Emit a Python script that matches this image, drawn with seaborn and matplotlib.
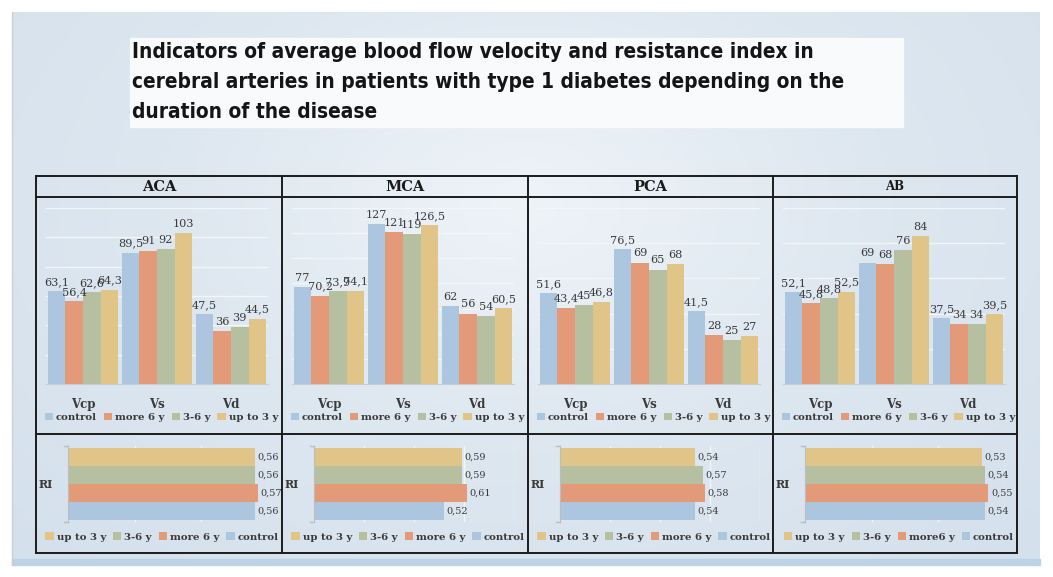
import numpy as np
import pandas as pd
import matplotlib
matplotlib.use('Agg')
import matplotlib.pyplot as plt
import seaborn as sns
from matplotlib import font_manager as fm
from matplotlib.patches import Rectangle
from matplotlib.colors import LinearSegmentedColormap

# ---------------- data ----------------
arteries = ['ACA', 'MCA', 'PCA', 'AB']
params = ['Vcp', 'Vs', 'Vd']
groups = ['control', 'more 6 y', '3-6 y', 'up to 3 y']

aca_control = [63.1, 89.5, 47.5]
aca_more6 = [56.4, 91, 36]
aca_3to6 = [62.6, 92, 39]
aca_upto3 = [64.3, 103, 44.5]

mca_control = [77, 127, 62]
mca_more6 = [70.2, 121, 56]
mca_3to6 = [73.9, 119, 54]
mca_upto3 = [74.1, 126.5, 60.5]

pca_control = [51.6, 76.5, 41.5]
pca_more6 = [43.4, 69, 28]
pca_3to6 = [45, 65, 25]
pca_upto3 = [46.8, 68, 27]

ab_control = [52.1, 69, 37.5]
ab_more6 = [45.8, 68, 34]
ab_3to6 = [48.8, 76, 34]
ab_upto3 = [52.5, 84, 39.5]

# RI values in order: up to 3 y, 3-6 y, more 6 y, control
ri_aca = [0.56, 0.56, 0.57, 0.56]
ri_mca = [0.59, 0.59, 0.61, 0.52]
ri_pca = [0.54, 0.57, 0.58, 0.54]
ri_ab = [0.53, 0.54, 0.55, 0.54]

ri_labels_std = ['up to 3 y', '3-6 y', 'more 6 y', 'control']
ri_labels_ab = ['up to 3 y', '3-6 y', 'more6 y', 'control']

title_lines = ['Indicators of average blood flow velocity and resistance index in',
               'cerebral arteries in patients with type 1 diabetes depending on the',
               'duration of the disease']

# ---------------- style ----------------
c_control = '#abc6de'
c_more6 = '#e29a78'
c_3to6 = '#b6c0a0'
c_upto3 = '#e0c488'
bar_colors = [c_control, c_more6, c_3to6, c_upto3]
ri_colors = [c_upto3, c_3to6, c_more6, c_control]

serif = 'DejaVu Serif'
txt_col = '#3a3a3a'

def pick_title_font():
    try:
        fm.findfont(fm.FontProperties(family='Liberation Sans Narrow'), fallback_to_default=False)
        return {'family': 'Liberation Sans Narrow'}
    except Exception:
        pass
    try:
        p = fm.findfont(fm.FontProperties(family='DejaVu Sans', stretch='condensed', weight='bold'))
        if 'Condensed' in p:
            return {'family': 'DejaVu Sans', 'stretch': 'condensed'}
    except Exception:
        pass
    return {'family': 'Open Sans'}

tfont = pick_title_font()

W, H = 1053, 577
fig = plt.figure(figsize=(W / 100, H / 100), dpi=100)
fig.patch.set_facecolor('white')

def px_axes(x, y, w, h, **kw):
    return fig.add_axes([x / W, 1 - (y + h) / H, w / W, h / H], **kw)

# background slide
bg = px_axes(0, 0, W, H, zorder=0)
bg.set_xlim(0, W)
bg.set_ylim(H, 0)
bg.axis('off')
yy, xx = np.mgrid[0:1:120j, 0:1:200j]
grad = np.sqrt(((xx - 0.5) / 0.7) ** 2 + ((yy - 0.35) / 0.9) ** 2)
cmap = LinearSegmentedColormap.from_list('bgc', ['#eef3f8', '#dde7f0', '#d4e0ec'])
bg.imshow(grad, cmap=cmap, extent=(12, 1040, 559, 12), aspect='auto', zorder=0)
bg.add_patch(Rectangle((12, 559), 1028, 6, color='#bcd2e6', zorder=1))
bg.plot([12, 12], [12, 565], color='#cfcfcf', lw=1, zorder=2)
bg.add_patch(Rectangle((130, 38), 773, 89, color='#f8fafc', zorder=1))

# title
fs = 16
t0 = bg.text(132, 52, title_lines[0], fontsize=fs, fontweight='bold', **tfont,
             color='#151515', va='center', ha='left', zorder=3)
fig.canvas.draw()
wpx = t0.get_window_extent().width
fs = fs * 683 / wpx
t0.set_fontsize(fs)
for k, line in enumerate(title_lines[1:], start=1):
    bg.text(132, 52 + 30 * k, line, fontsize=fs, fontweight='bold', **tfont,
            color='#151515', va='center', ha='left', zorder=3)

def fmt(v):
    return f'{v:g}'.replace('.', ',')

cols = [36, 282, 528, 773, 1017]
bar_data = {
    'ACA': [aca_control, aca_more6, aca_3to6, aca_upto3],
    'MCA': [mca_control, mca_more6, mca_3to6, mca_upto3],
    'PCA': [pca_control, pca_more6, pca_3to6, pca_upto3],
    'AB': [ab_control, ab_more6, ab_3to6, ab_upto3],
}
ymax = {'ACA': 120, 'MCA': 140, 'PCA': 100, 'AB': 100}
ri_data = {'ACA': ri_aca, 'MCA': ri_mca, 'PCA': ri_pca, 'AB': ri_ab}
ri_xmax = {'ACA': 0.6, 'MCA': 0.8, 'PCA': 0.8, 'AB': 0.6}

for i, art in enumerate(arteries):
    # ---- velocity bars ----
    rows = []
    for g, vals in zip(groups, bar_data[art]):
        for p, v in zip(params, vals):
            rows.append({'param': p, 'group': g, 'value': v})
    df = pd.DataFrame(rows)
    ax = px_axes(cols[i] + 10, 208, 222, 176, zorder=5)
    ax.patch.set_alpha(0)
    sns.barplot(data=df, x='param', y='value', hue='group', order=params, hue_order=groups,
                palette=bar_colors, width=0.95, saturation=1, ax=ax, errorbar=None)
    ax.set_ylim(0, ymax[art])
    ax.set_yticks(np.arange(0, ymax[art] + 1, 20))
    ax.yaxis.grid(True, color='#f3f6f9', lw=1)
    ax.set_axisbelow(True)
    ax.tick_params(axis='y', left=False, labelleft=False)
    ax.tick_params(axis='x', length=0, pad=10, labelsize=8.5, labelcolor=txt_col)
    for lab in ax.get_xticklabels():
        lab.set_family(serif)
        lab.set_fontweight('bold')
    for s in ['top', 'right', 'left']:
        ax.spines[s].set_visible(False)
    ax.spines['bottom'].set_color('#c9cdd2')
    ax.set_xlabel('')
    ax.set_ylabel('')
    for cont in ax.containers:
        ax.bar_label(cont, labels=[fmt(v) for v in cont.datavalues], padding=3,
                     fontsize=8.1, family=serif, color=txt_col)
    sns.move_legend(ax, 'center', bbox_to_anchor=(0.52, -0.19), ncol=4, frameon=False,
                    title=None, handlelength=0.8, handleheight=0.8, handletextpad=0.3,
                    columnspacing=0.7, prop={'family': serif, 'size': 7.3, 'weight': 'bold'},
                    labelcolor=txt_col)

    # ---- RI bars ----
    labs = ri_labels_ab if art == 'AB' else ri_labels_std
    dfr = pd.DataFrame({'cat': ['RI'] * 4, 'group': labs, 'value': ri_data[art]})
    axr = px_axes(cols[i] + 32, 446, 200, 76, zorder=5)
    axr.patch.set_alpha(0)
    sns.barplot(data=dfr, y='cat', x='value', hue='group', hue_order=labs, orient='h',
                palette=ri_colors, width=0.95, saturation=1, ax=axr, errorbar=None)
    axr.set_ylim(0.5, -0.5)
    axr.set_xlim(0, ri_xmax[art])
    axr.set_xticks(np.arange(0, ri_xmax[art] + 0.01, 0.2))
    axr.xaxis.grid(True, color='#f3f6f9', lw=1)
    axr.set_axisbelow(True)
    axr.tick_params(axis='x', bottom=False, labelbottom=False)
    axr.tick_params(axis='y', length=0, pad=11, labelsize=8, labelcolor=txt_col)
    for lab in axr.get_yticklabels():
        lab.set_family(serif)
        lab.set_fontweight('bold')
    for s in ['top', 'right', 'bottom']:
        axr.spines[s].set_visible(False)
    axr.spines['left'].set_color('#bdbdbd')
    axr.plot([-0.012 * ri_xmax[art] / 0.6, 0], [-0.5, -0.5], color='#bdbdbd', lw=1,
             clip_on=False)
    axr.plot([-0.012 * ri_xmax[art] / 0.6, 0], [0.5, 0.5], color='#bdbdbd', lw=1,
             clip_on=False)
    axr.set_xlabel('')
    axr.set_ylabel('')
    for cont in axr.containers:
        axr.bar_label(cont, labels=[fmt(v) for v in cont.datavalues], padding=2,
                      fontsize=7, family=serif, color=txt_col)
    sns.move_legend(axr, 'center', bbox_to_anchor=(0.47, -0.2), ncol=4, frameon=False,
                    title=None, handlelength=0.8, handleheight=0.8, handletextpad=0.3,
                    columnspacing=0.7, prop={'family': serif, 'size': 7.3, 'weight': 'bold'},
                    labelcolor=txt_col)

# table grid and header
fg = px_axes(0, 0, W, H, zorder=20)
fg.patch.set_alpha(0)
fg.set_xlim(0, W)
fg.set_ylim(H, 0)
fg.axis('off')
lc = '#1c1c1c'
for x in cols:
    fg.plot([x, x], [176, 553], color=lc, lw=1.4)
for y in [176, 197, 434, 553]:
    fg.plot([cols[0], cols[-1]], [y, y], color=lc, lw=1.4)
hsize = {'ACA': 10.5, 'MCA': 10.5, 'PCA': 10.5, 'AB': 8.5}
for i, art in enumerate(arteries):
    fg.text((cols[i] + cols[i + 1]) / 2, 187, art, ha='center', va='center',
            family=serif, fontweight='bold', fontsize=hsize[art], color='#1a1a1a')

fig.savefig('out.png', dpi=100, facecolor=fig.get_facecolor())
